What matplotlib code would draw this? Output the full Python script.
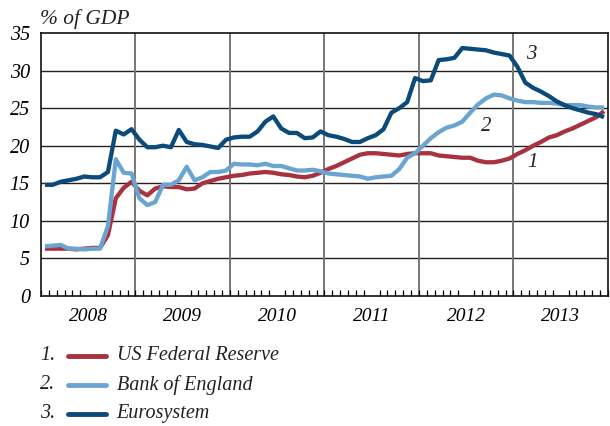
import numpy as np
import matplotlib
matplotlib.use("Agg")
from matplotlib import pyplot as plt

# monthly values, Jan 2008 - Dec 2013, % of GDP
fed = [6.3, 6.3, 6.3, 6.3, 6.2, 6.3, 6.4, 6.4, 8.1, 13.0, 14.4, 15.2,
       14.0, 13.4, 14.3, 14.6, 14.5, 14.5, 14.2, 14.3, 15.0, 15.3, 15.6, 15.8,
       16.0, 16.1, 16.3, 16.4, 16.5, 16.4, 16.2, 16.1, 15.9, 15.8, 16.0, 16.4,
       16.9, 17.3, 17.8, 18.3, 18.8, 19.0, 19.0, 18.9, 18.8, 18.7, 18.9, 19.0,
       19.0, 19.0, 18.7, 18.6, 18.5, 18.4, 18.4, 18.0, 17.8, 17.8, 18.0, 18.3,
       18.9, 19.4, 20.0, 20.5, 21.1, 21.4, 21.9, 22.3, 22.8, 23.3, 23.8, 24.6]
boe = [6.6, 6.7, 6.8, 6.3, 6.3, 6.2, 6.3, 6.3, 9.3, 18.2, 16.4, 16.3,
       13.0, 12.1, 12.5, 14.8, 14.8, 15.4, 17.2, 15.4, 15.8, 16.5, 16.5, 16.7,
       17.6, 17.5, 17.5, 17.4, 17.6, 17.3, 17.3, 17.0, 16.7, 16.7, 16.8, 16.6,
       16.3, 16.2, 16.1, 16.0, 15.9, 15.6, 15.8, 15.9, 16.0, 16.9, 18.4, 19.0,
       20.0, 21.0, 21.8, 22.4, 22.7, 23.2, 24.4, 25.5, 26.3, 26.8, 26.7, 26.3,
       26.0, 25.8, 25.8, 25.7, 25.7, 25.6, 25.4, 25.4, 25.4, 25.2, 25.1, 25.1]
euro = [14.8, 14.8, 15.2, 15.4, 15.6, 15.9, 15.8, 15.8, 16.5, 22.0, 21.5, 22.2,
        20.8, 19.8, 19.8, 20.0, 19.8, 22.1, 20.5, 20.2, 20.1, 19.9, 19.7, 20.8,
        21.1, 21.2, 21.2, 21.9, 23.2, 23.9, 22.3, 21.7, 21.7, 21.0, 21.1, 21.9,
        21.4, 21.2, 20.9, 20.5, 20.5, 21.0, 21.4, 22.2, 24.4, 25.0, 25.8, 29.0,
        28.6, 28.7, 31.4, 31.5, 31.7, 33.0, 32.9, 32.8, 32.7, 32.4, 32.2, 32.0,
        30.5, 28.4, 27.7, 27.2, 26.6, 25.9, 25.4, 25.0, 24.7, 24.4, 24.2, 23.8]
years = [2008, 2009, 2010, 2011, 2012, 2013]
names = ["US Federal Reserve", "Bank of England", "Eurosystem"]
colors = ["#a8323f", "#6aa5d1", "#0c4a7a"]

t = 2008 + (np.arange(len(fed)) + 0.5) / 12

plt.rcParams['font.family'] = ['Liberation Serif', 'DejaVu Serif']
plt.rcParams['font.style'] = 'italic'

fig = plt.figure(figsize=(6.1, 4.26), dpi=100)
ax = fig.add_axes([0.0672, 0.3052, 0.9295, 0.6173])

for y in range(5, 35, 5):
    ax.axhline(y, color="#222222", lw=1.0, zorder=1)
for yr in years[1:]:
    ax.axvline(yr, color="#777777", lw=1.4, zorder=1)

for vals, c in zip([fed, boe, euro], colors):
    ax.plot(t, vals, color=c, lw=3.1, solid_capstyle="butt", zorder=3)

ax.set_xlim(2008, 2014)
ax.set_ylim(0, 35)
ax.set_yticks(range(0, 36, 5))
ax.set_yticklabels([str(v) for v in range(0, 36, 5)], fontsize=14.5)
ax.tick_params(axis="y", length=0, pad=8)
ax.set_xticks([y + 0.5 for y in years])
ax.set_xticklabels([str(y) for y in years], fontsize=14)
ax.set_xticks(np.arange(2008, 2014.01, 1 / 12), minor=True)
ax.tick_params(axis="x", which="major", length=0, pad=9)
ax.tick_params(axis="x", which="minor", direction="in", length=4, width=0.9)
for s in ax.spines.values():
    s.set_linewidth(1.2)
    s.set_color("#111111")

ax.text(2013.15, 17.2, "1", fontsize=15, color="#222222")
ax.text(2012.66, 21.9, "2", fontsize=15, color="#222222")
ax.text(2013.13, 31.5, "3", fontsize=15, color="#222222")

fig.text(0.066, 0.943, "% of GDP", fontsize=15.5, color="#222222")

# legend
for i, (n, c) in enumerate(zip(names, colors)):
    yy = 0.165 - i * 0.068
    fig.text(0.066, yy, "%d." % (i + 1), fontsize=14.5, va="center", color="#222222")
    fig.add_artist(plt.Line2D([0.112, 0.173], [yy, yy], color=c, lw=3.5,
                              solid_capstyle="round", transform=fig.transFigure))
    fig.text(0.191, yy, n, fontsize=14.5, va="center", color="#222222")

fig.savefig("out.png", dpi=100)
